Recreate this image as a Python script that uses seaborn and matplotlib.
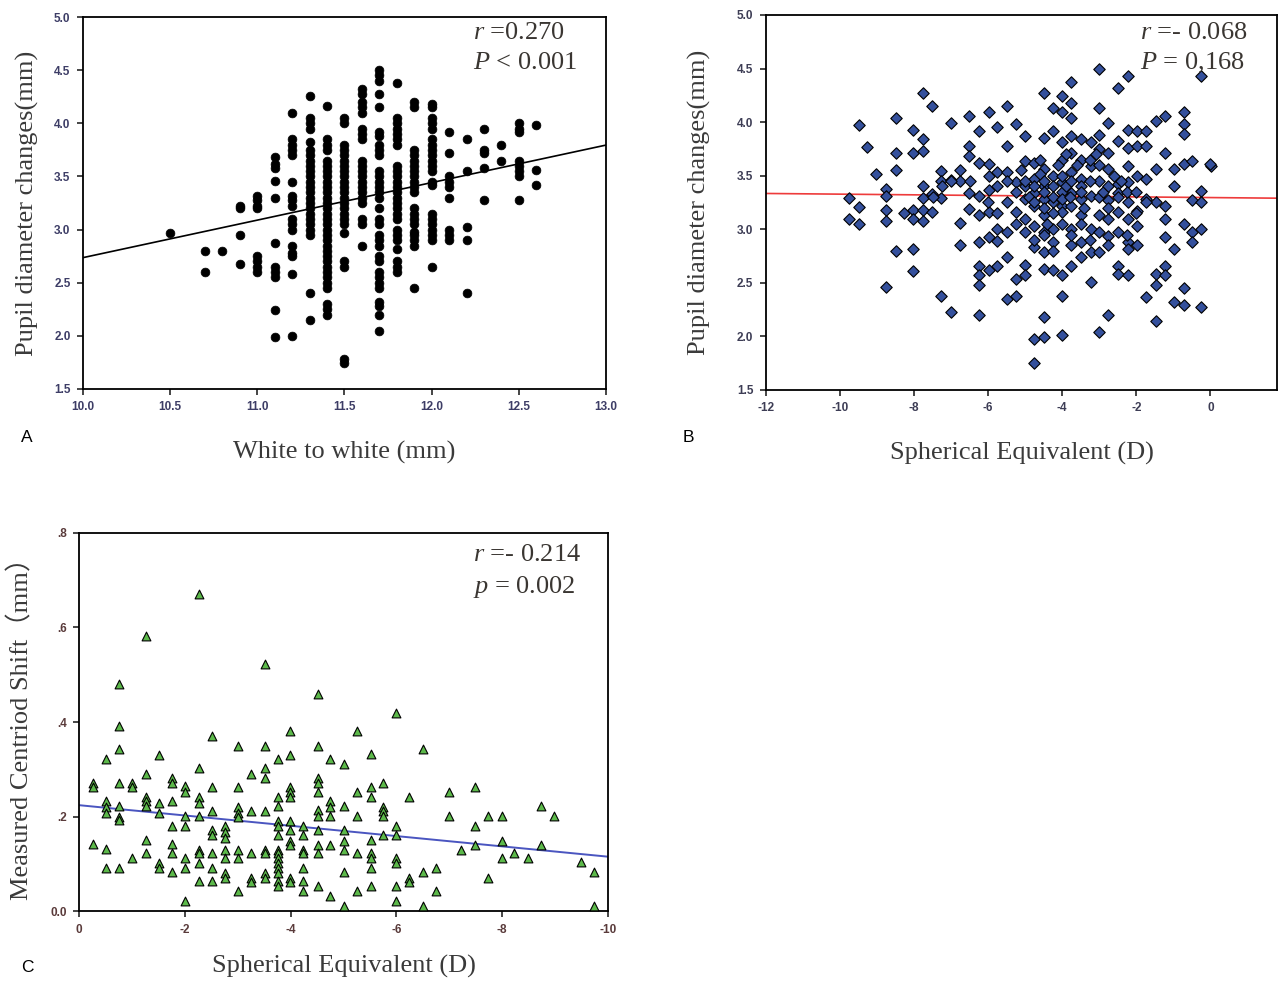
import numpy as np
import pandas as pd
import matplotlib
matplotlib.use('Agg')
import matplotlib.pyplot as plt
import seaborn as sns

# ---- Panel A: white to white vs pupil diameter change ----
wtw_cols = [10.5, 10.7, 10.8, 10.9, 11.0, 11.1, 11.2, 11.3, 11.4, 11.5,
            11.6, 11.7, 11.8, 11.9, 12.0, 12.1, 12.2, 12.3, 12.4, 12.5, 12.6]
pupil_a_cols = [
    [2.97],
    [2.80, 2.60],
    [2.80],
    [3.22, 3.20, 2.95, 2.68],
    [3.32, 3.28, 3.22, 3.20, 2.75, 2.70, 2.65, 2.60],
    [3.68, 3.62, 3.58, 3.46, 3.30, 2.87, 2.65, 2.60, 2.55, 2.24, 1.99],
    [4.10, 3.85, 3.80, 3.75, 3.70, 3.45, 3.32, 3.28, 3.22, 3.10, 3.05, 3.00,
     2.85, 2.78, 2.75, 2.58, 2.00],
    [4.26, 4.05, 4.00, 3.95, 3.82, 3.75, 3.70, 3.65, 3.60, 3.55, 3.50, 3.45,
     3.40, 3.35, 3.30, 3.25, 3.20, 3.15, 3.10, 3.05, 3.00, 2.95, 2.40, 2.15],
    [4.16, 3.85, 3.80, 3.75, 3.65, 3.60, 3.55, 3.50, 3.45, 3.40, 3.35, 3.30,
     3.25, 3.20, 3.15, 3.10, 3.05, 3.00, 2.95, 2.90, 2.85, 2.80, 2.75, 2.70,
     2.65, 2.60, 2.55, 2.50, 2.45, 2.30, 2.25, 2.20],
    [4.05, 4.00, 3.80, 3.75, 3.70, 3.65, 3.60, 3.55, 3.50, 3.45, 3.40, 3.35,
     3.30, 3.25, 3.20, 3.15, 3.10, 3.05, 2.97, 2.70, 2.65, 1.78, 1.74],
    [4.32, 4.28, 4.20, 4.15, 4.10, 3.95, 3.90, 3.85, 3.65, 3.60, 3.55, 3.50,
     3.45, 3.40, 3.35, 3.30, 3.25, 3.10, 3.05, 2.85],
    [4.50, 4.45, 4.40, 4.28, 4.15, 3.92, 3.88, 3.80, 3.75, 3.70, 3.55, 3.50,
     3.45, 3.40, 3.35, 3.30, 3.20, 3.10, 3.05, 2.95, 2.90, 2.85, 2.75, 2.70,
     2.60, 2.55, 2.50, 2.45, 2.32, 2.28, 2.20, 2.05],
    [4.38, 4.05, 4.00, 3.95, 3.90, 3.85, 3.80, 3.60, 3.55, 3.50, 3.45, 3.40,
     3.35, 3.30, 3.25, 3.20, 3.15, 3.10, 3.00, 2.95, 2.90, 2.82, 2.70, 2.65, 2.60],
    [4.20, 4.15, 3.75, 3.70, 3.65, 3.60, 3.55, 3.50, 3.45, 3.40, 3.35, 3.20,
     3.15, 3.10, 3.05, 2.98, 2.95, 2.90, 2.85, 2.45],
    [4.18, 4.15, 4.05, 4.00, 3.95, 3.85, 3.80, 3.75, 3.70, 3.65, 3.60, 3.55,
     3.45, 3.42, 3.15, 3.10, 3.05, 3.00, 2.95, 2.90, 2.65],
    [3.92, 3.72, 3.50, 3.45, 3.40, 3.30, 3.00, 2.95, 2.90],
    [3.85, 3.55, 3.02, 2.90, 2.40],
    [3.95, 3.75, 3.72, 3.58, 3.28],
    [3.80, 3.65],
    [4.00, 3.95, 3.92, 3.65, 3.60, 3.55, 3.50, 3.28],
    [3.98, 3.56, 3.42],
]
fit_a_x = [10.0, 13.0]
fit_a_y = [2.736, 3.795]

# ---- Panel B: spherical equivalent vs pupil diameter change ----
se_b = [-9.75, -9.75, -9.5, -9.5, -9.5, -9.27, -9.03, -8.77, -8.77, -8.77,
        -8.77, -8.77, -8.5, -8.5, -8.5, -8.5, -8.27, -8.02, -8.02, -8.02,
        -8.02, -8.02, -8.02, -7.77, -7.77, -7.77, -7.77, -7.77, -7.77, -7.77,
        -7.51, -7.51, -7.51, -7.27, -7.27, -7.27, -7.27, -7.01, -7.01, -7.01,
        -6.76, -6.76, -6.76, -6.51, -6.51, -6.51, -6.51, -6.51, -6.26, -6.26,
        -6.26, -6.26, -6.26, -6.26, -6.26, -6.26, -6.26, -5.98, -5.98, -5.98,
        -5.98, -5.98, -5.98, -5.98, -5.76, -5.76, -5.76, -5.76, -5.76, -5.76,
        -5.5, -5.5, -5.5, -5.5, -5.5, -5.5, -5.5, -5.26, -5.26, -5.26,
        -5.26, -5.26, -5.0, -5.0, -5.0, -5.0, -5.0, -5.0, -5.0, -5.0,
        -4.76, -4.76, -4.76, -4.76, -4.76, -4.76, -4.76, -4.76, -4.48, -4.48,
        -4.48, -4.48, -4.48, -4.48, -4.48, -4.48, -4.48, -4.48, -4.48, -4.26,
        -4.26, -4.26, -4.26, -4.26, -4.26, -4.26, -4.0, -4.0, -4.0, -4.0,
        -4.0, -4.0, -4.0, -4.0, -4.0, -4.0, -3.75, -3.75, -3.75, -3.75,
        -3.75, -3.75, -3.75, -3.75, -3.75, -3.75, -3.75, -3.5, -3.5, -3.5,
        -3.5, -3.5, -3.5, -3.5, -3.23, -3.23, -3.23, -3.23, -3.23, -3.23,
        -3.0, -3.0, -3.0, -3.0, -3.0, -3.0, -3.0, -3.0, -3.0, -2.75,
        -2.75, -2.75, -2.75, -2.75, -2.75, -2.75, -2.5, -2.5, -2.5, -2.5,
        -2.5, -2.5, -2.5, -2.5, -2.23, -2.23, -2.23, -2.23, -2.23, -2.23,
        -2.23, -2.23, -2.23, -2.23, -1.97, -1.97, -1.97, -1.97, -1.97, -1.97,
        -1.73, -1.73, -1.73, -1.73, -1.73, -1.47, -1.47, -1.47, -1.47, -1.47,
        -1.47, -1.23, -1.23, -1.23, -1.23, -1.23, -1.23, -1.23, -0.97, -0.97,
        -0.97, -0.97, -0.72, -0.72, -0.72, -0.72, -0.72, -0.72, -0.72, -0.49,
        -0.49, -0.49, -0.49, -0.25, -0.25, -0.25, -0.25, -0.25, 0.03, 0.0,
        -5.25, -5.0, -4.9, -4.75, -4.75, -4.6, -4.5, -4.5, -4.5, -4.4,
        -4.25, -4.25, -4.25, -4.1, -4.0, -4.0, -4.0, -3.9, -3.9, -3.8,
        -3.75, -3.6, -3.5, -3.5, -3.4, -3.25, -3.25, -3.1, -3.0, -3.0,
        -2.9, -2.75, -2.75, -2.6, -2.5, -2.4, -2.25, -2.0, -2.0, -1.75,
        -4.6, -5.1, -5.5, -5.75, -6.0, -6.5, -6.75, -7.0, -7.25, -7.5,
        -5.25, -4.75, -4.25, -3.75, -3.25, -2.75, -2.25, -3.5, -4.0, -4.5]
pupil_b = [3.29, 3.10, 3.21, 3.05, 3.97, 3.77, 3.52, 3.38, 3.31, 3.18,
           3.08, 2.46, 4.04, 3.71, 3.55, 2.80, 3.15, 3.93, 3.71, 3.18,
           3.10, 2.82, 2.61, 4.27, 3.84, 3.73, 3.40, 3.29, 3.18, 3.08,
           4.15, 3.33, 3.16, 3.54, 3.45, 3.29, 2.38, 3.99, 2.23, 3.46,
           3.45, 3.06, 2.85, 4.06, 3.78, 3.68, 3.34, 3.19, 3.92, 3.62,
           3.31, 3.13, 2.88, 2.66, 2.57, 2.48, 2.20, 4.09, 3.61, 3.50,
           3.37, 3.16, 2.93, 2.62, 3.95, 3.53, 3.40, 3.00, 2.89, 2.66,
           4.15, 3.78, 3.53, 3.25, 2.97, 2.74, 2.35, 3.98, 3.44, 3.16,
           2.54, 2.38, 3.87, 3.64, 3.40, 3.28, 3.10, 2.97, 2.67, 2.57,
           3.62, 3.47, 3.34, 3.22, 3.03, 2.83, 1.98, 1.75, 4.27, 3.85,
           3.56, 3.40, 3.28, 3.13, 2.97, 2.79, 2.63, 2.18, 1.99, 4.13,
           3.92, 3.50, 3.25, 3.00, 2.88, 2.62, 4.24, 4.09, 3.81, 3.65,
           3.44, 3.22, 3.16, 2.57, 2.38, 2.01, 4.37, 4.18, 4.04, 3.87,
           3.71, 3.53, 3.34, 3.22, 3.00, 2.85, 2.66, 3.84, 3.65, 3.47,
           3.28, 3.13, 2.88, 2.74, 3.81, 3.59, 3.31, 3.00, 2.79, 2.51,
           4.50, 4.13, 3.88, 3.75, 3.45, 3.13, 2.97, 2.79, 2.04, 3.99,
           3.71, 3.56, 3.27, 3.10, 2.94, 2.20, 4.32, 3.82, 3.42, 3.34,
           3.16, 2.97, 2.66, 2.58, 4.43, 3.93, 3.76, 3.59, 3.44, 3.25,
           3.10, 2.88, 2.82, 2.57, 3.92, 3.78, 3.50, 3.17, 3.03, 2.85,
           3.92, 3.78, 3.47, 3.28, 2.37, 4.01, 3.56, 3.25, 2.58, 2.48,
           2.14, 4.06, 3.71, 3.22, 3.10, 2.93, 2.66, 2.57, 3.56, 3.40,
           2.82, 2.32, 4.09, 3.98, 3.89, 3.61, 3.05, 2.45, 2.29, 3.64,
           3.27, 2.97, 2.88, 4.43, 3.36, 3.25, 3.00, 2.27, 3.59, 3.61,
           3.35, 3.45, 3.30, 3.25, 3.40, 3.52, 3.45, 3.35, 3.20, 3.05,
           3.40, 3.30, 3.15, 3.60, 3.50, 3.35, 3.28, 3.70, 3.40, 3.30,
           3.45, 3.60, 3.40, 3.35, 3.20, 3.45, 3.65, 3.70, 3.60, 3.30,
           3.35, 3.40, 3.20, 3.50, 3.30, 3.45, 3.35, 3.35, 3.15, 3.25,
           3.65, 3.55, 3.45, 3.15, 3.25, 3.45, 3.55, 3.45, 3.40, 3.30,
           3.05, 2.90, 2.80, 2.95, 2.90, 2.85, 2.95, 3.05, 3.05, 2.95]
fit_b_x = [-12.0, 1.8]
fit_b_y = [3.334, 3.29]

# ---- Panel C: spherical equivalent vs measured centroid shift ----
se_c = [-0.27, -0.27, -0.27, -0.51, -0.51, -0.51, -0.51, -0.51, -0.51,
        -0.76, -0.76, -0.76, -0.76, -0.76, -0.76, -0.76, -0.76, -1.01, -1.01,
        -1.01, -1.26, -1.26, -1.26, -1.26, -1.26, -1.26, -1.26, -1.51, -1.51,
        -1.51, -1.51, -1.51, -1.76, -1.76, -1.76, -1.76, -1.76, -1.76, -1.76,
        -2.01, -2.01, -2.01, -2.01, -2.01, -2.01, -2.01, -2.26, -2.26, -2.26,
        -2.26, -2.26, -2.26, -2.26, -2.26, -2.26, -2.51, -2.51, -2.51, -2.51,
        -2.51, -2.51, -2.51, -2.51, -2.75, -2.75, -2.75, -2.75, -2.75, -2.75,
        -2.75, -3.01, -3.01, -3.01, -3.01, -3.01, -3.01, -3.01, -3.01, -3.26,
        -3.26, -3.26, -3.26, -3.26, -3.51, -3.51, -3.51, -3.51, -3.51, -3.51,
        -3.51, -3.51, -3.51, -3.76, -3.76, -3.76, -3.76, -3.76, -3.76, -3.76,
        -3.76, -3.76, -3.76, -3.76, -3.76, -3.76, -3.76, -3.99, -3.99, -3.99,
        -3.99, -3.99, -3.99, -3.99, -3.99, -3.99, -3.99, -3.99, -4.24, -4.24,
        -4.24, -4.24, -4.24, -4.24, -4.24, -4.51, -4.51, -4.51, -4.51, -4.51,
        -4.51, -4.51, -4.51, -4.51, -4.51, -4.51, -4.75, -4.75, -4.75, -4.75,
        -4.75, -4.75, -5.01, -5.01, -5.01, -5.01, -5.01, -5.01, -5.01, -5.25,
        -5.25, -5.25, -5.25, -5.25, -5.51, -5.51, -5.51, -5.51, -5.51, -5.51,
        -5.51, -5.51, -5.75, -5.75, -5.75, -5.75, -5.75, -5.99, -5.99, -5.99,
        -5.99, -5.99, -5.99, -5.99, -6.24, -6.24, -6.24, -6.51, -6.51, -6.51,
        -6.75, -6.75, -6.99, -6.99, -7.23, -7.49, -7.49, -7.49, -7.73, -7.73,
        -7.99, -7.99, -7.99, -8.23, -8.49, -8.73, -8.73, -8.98, -9.49, -9.73,
        -9.73]
shift_c = [0.270, 0.263, 0.142, 0.321, 0.233, 0.221, 0.208, 0.131, 0.091,
           0.481, 0.391, 0.342, 0.270, 0.222, 0.200, 0.193, 0.091, 0.270, 0.263,
           0.112, 0.581, 0.291, 0.242, 0.232, 0.222, 0.151, 0.123, 0.331, 0.229,
           0.208, 0.102, 0.091, 0.281, 0.270, 0.232, 0.180, 0.142, 0.123, 0.083,
           0.265, 0.251, 0.201, 0.180, 0.112, 0.091, 0.022, 0.670, 0.302, 0.242,
           0.229, 0.201, 0.130, 0.123, 0.102, 0.063, 0.370, 0.262, 0.211, 0.172,
           0.161, 0.123, 0.091, 0.063, 0.180, 0.168, 0.154, 0.130, 0.112, 0.081,
           0.070, 0.350, 0.262, 0.221, 0.208, 0.200, 0.130, 0.112, 0.042, 0.291,
           0.211, 0.123, 0.070, 0.061, 0.523, 0.350, 0.302, 0.281, 0.211, 0.130,
           0.123, 0.081, 0.070, 0.321, 0.242, 0.222, 0.190, 0.180, 0.161, 0.130,
           0.123, 0.112, 0.102, 0.091, 0.081, 0.063, 0.053, 0.381, 0.331, 0.262,
           0.251, 0.242, 0.190, 0.172, 0.149, 0.140, 0.070, 0.061, 0.180, 0.161,
           0.130, 0.123, 0.091, 0.063, 0.042, 0.460, 0.350, 0.281, 0.270, 0.251,
           0.214, 0.201, 0.172, 0.140, 0.123, 0.053, 0.321, 0.232, 0.221, 0.201,
           0.140, 0.032, 0.311, 0.222, 0.172, 0.149, 0.130, 0.083, 0.011, 0.381,
           0.251, 0.201, 0.123, 0.042, 0.333, 0.263, 0.242, 0.151, 0.123, 0.112,
           0.091, 0.053, 0.270, 0.221, 0.211, 0.201, 0.161, 0.419, 0.180, 0.161,
           0.112, 0.102, 0.053, 0.022, 0.242, 0.070, 0.061, 0.342, 0.083, 0.011,
           0.091, 0.042, 0.251, 0.201, 0.130, 0.263, 0.180, 0.140, 0.201, 0.070,
           0.201, 0.149, 0.112, 0.123, 0.112, 0.222, 0.140, 0.201, 0.104, 0.083,
           0.011]
fit_c_x = [0.0, -10.0]
fit_c_y = [0.224, 0.115]

# build tables
df_a = pd.DataFrame({
    'wtw': np.repeat(wtw_cols, [len(c) for c in pupil_a_cols]),
    'pupil': np.concatenate(pupil_a_cols),
})
df_b = pd.DataFrame({'se': se_b, 'pupil': pupil_b})
df_c = pd.DataFrame({'se': se_c, 'shift': shift_c})

sns.set_style('white')
plt.rcParams['font.family'] = ['Liberation Serif', 'DejaVu Serif']
plt.rcParams['mathtext.fontset'] = 'custom'
plt.rcParams['mathtext.rm'] = 'Liberation Serif'
plt.rcParams['mathtext.it'] = 'Liberation Serif:italic'

fig = plt.figure(figsize=(12.83, 9.85), dpi=100)
ax_a = fig.add_axes([0.0647, 0.6051, 0.4076, 0.3776])
ax_b = fig.add_axes([0.5970, 0.6041, 0.3983, 0.3807])
ax_c = fig.add_axes([0.0616, 0.0751, 0.4123, 0.3838])

label_col = '#3a3a3a'
note_col = '#3a3632'


def style_axes(ax, tick_col):
    for sp in ax.spines.values():
        sp.set_color('black')
        sp.set_linewidth(1.3)
        sp.set_visible(True)
    ax.tick_params(axis='both', direction='out', length=4, width=1.2,
                   bottom=True, left=True, top=False, right=False,
                   labelsize=8.5, labelcolor=tick_col, pad=5)
    for lab in ax.get_xticklabels() + ax.get_yticklabels():
        lab.set_family('Liberation Sans')
        lab.set_fontweight('bold')


# Panel A
sns.scatterplot(data=df_a, x='wtw', y='pupil', ax=ax_a, color='black',
                marker='o', s=40, edgecolor='black', linewidth=0.5, zorder=3)
sns.lineplot(x=fit_a_x, y=fit_a_y, ax=ax_a, color='black', linewidth=1.2)
ax_a.set_xlim(10.0, 13.0)
ax_a.set_ylim(1.5, 5.0)
ax_a.set_xticks(np.arange(10.0, 13.01, 0.5))
ax_a.set_yticks(np.arange(1.5, 5.01, 0.5))
ax_a.set_xticklabels([f'{v:.1f}' for v in np.arange(10.0, 13.01, 0.5)])
ax_a.set_yticklabels([f'{v:.1f}' for v in np.arange(1.5, 5.01, 0.5)])
style_axes(ax_a, '#3d3d66')
ax_a.set_xlabel('White to white (mm)', fontsize=19, color=label_col, labelpad=20)
ax_a.set_ylabel('Pupil diameter changes(mm)', fontsize=19, color=label_col, labelpad=11)
ax_a.text(0.746, 0.957, r'$r$ =$\mathit{0.270}$', transform=ax_a.transAxes,
          fontsize=19, color=note_col, va='center', ha='left')
ax_a.text(0.746, 0.876, r'$P$ < 0.001', transform=ax_a.transAxes,
          fontsize=19, color=note_col, va='center', ha='left')

# Panel B
sns.scatterplot(data=df_b, x='se', y='pupil', ax=ax_b, color='#34509c',
                marker='D', s=34, edgecolor='black', linewidth=0.8, zorder=3)
sns.lineplot(x=fit_b_x, y=fit_b_y, ax=ax_b, color='#ee3b3b', linewidth=1.2, zorder=2)
ax_b.set_xlim(-12, 1.8)
ax_b.set_ylim(1.5, 5.0)
ax_b.set_xticks(np.arange(-12, 1, 2))
ax_b.set_yticks(np.arange(1.5, 5.01, 0.5))
ax_b.set_xticklabels([str(v) for v in range(-12, 1, 2)])
ax_b.set_yticklabels([f'{v:.1f}' for v in np.arange(1.5, 5.01, 0.5)])
style_axes(ax_b, '#3d3d55')
ax_b.set_xlabel('Spherical Equivalent (D)', fontsize=19, color=label_col, labelpad=20)
ax_b.set_ylabel('Pupil diameter changes(mm)', fontsize=19, color=label_col, labelpad=19)
ax_b.text(0.732, 0.952, r'$r$ =- 0.068', transform=ax_b.transAxes,
          fontsize=19, color=note_col, va='center', ha='left')
ax_b.text(0.732, 0.872, r'$P$ = 0,168', transform=ax_b.transAxes,
          fontsize=19, color=note_col, va='center', ha='left')

# Panel C
sns.scatterplot(data=df_c, x='se', y='shift', ax=ax_c, color='#5cb94a',
                marker='^', s=40, edgecolor='black', linewidth=0.8, zorder=3)
sns.lineplot(x=fit_c_x, y=fit_c_y, ax=ax_c, color='#4a55c0', linewidth=1.4, zorder=2)
ax_c.set_xlim(0, -10)
ax_c.set_ylim(0, 0.8)
ax_c.set_xticks(np.arange(0, -10.01, -2))
ax_c.set_yticks([0.0, 0.2, 0.4, 0.6, 0.8])
ax_c.set_xticklabels(['0', '-2', '-4', '-6', '-8', '-10'])
ax_c.set_yticklabels(['0.0', '.2', '.4', '.6', '.8'])
style_axes(ax_c, '#5a3b3b')
ax_c.set_xlabel('Spherical Equivalent (D)', fontsize=19, color=label_col, labelpad=14)
ax_c.set_ylabel('Measured Centriod Shift\uff08mm\uff09', fontsize=19, color=label_col,
                labelpad=12, family=['Liberation Serif', 'Noto Sans CJK SC'])
ax_c.text(0.745, 0.942, r'$r$ =- 0.214', transform=ax_c.transAxes,
          fontsize=19, color=note_col, va='center', ha='left')
ax_c.text(0.745, 0.857, r'$p$ = 0.002', transform=ax_c.transAxes,
          fontsize=19, color=note_col, va='center', ha='left')

# panel letters
for lbl, (px, py) in zip(['A', 'B', 'C'], [(27, 438), (688, 438), (27, 968)]):
    fig.text(px / 1283, 1 - py / 985, lbl, fontsize=12.5, family='Liberation Sans',
             ha='center', va='center', color='black')

fig.savefig('out.png', dpi=100)
